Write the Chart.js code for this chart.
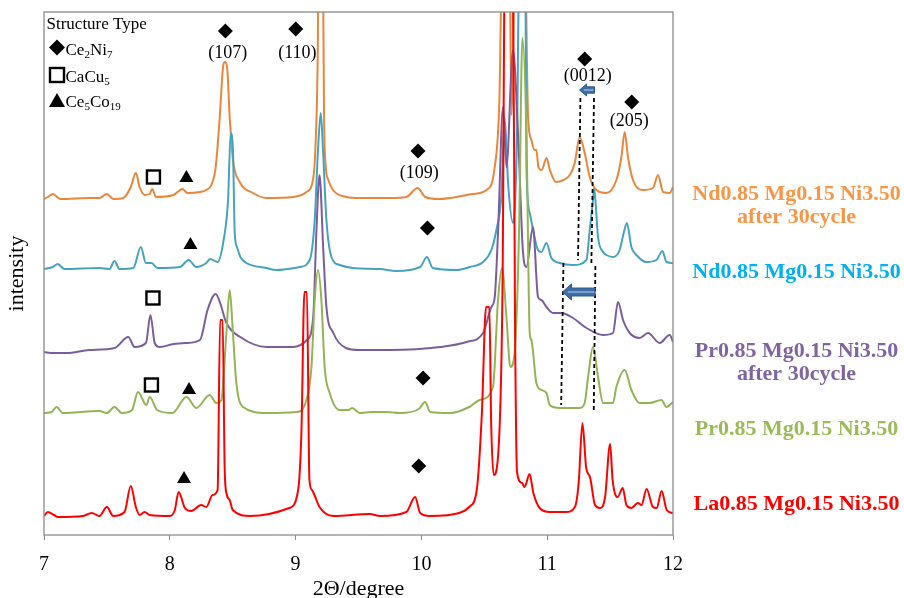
<!DOCTYPE html>
<html>
<head>
<meta charset="utf-8">
<script src="https://cdn.jsdelivr.net/npm/chart.js@4.4.0/dist/chart.umd.min.js"></script>
<style>
  html, body { margin: 0; padding: 0; background: #fff; }
  #wrap { width: 904px; height: 598px; }
</style>
</head>
<body>
<div id="wrap"><canvas id="xrd" width="904" height="598"></canvas></div>
<script>
// [2theta (degree), intensity with stacking offset]
const laPoints = [[7.00,19],[7.03,23],[7.08,20],[7.11,18],[7.31,19],[7.38,22],[7.44,19],[7.50,28],[7.55,19],[7.64,23],[7.69,49],[7.73,28],[7.76,20],[7.80,23],[7.84,20],[8.00,19],[8.04,25],[8.07,43],[8.12,27],[8.17,24],[8.25,30],[8.29,28],[8.34,40],[8.38,45],[8.40,215],[8.42,215],[8.436,68],[8.45,42],[8.476,35],[8.50,25],[8.64,19],[8.95,27],[9.02,45],[9.046,102],[9.07,243],[9.09,243],[9.11,55],[9.13,45],[9.15,40],[9.19,28],[9.30,19],[9.59,21],[9.67,19],[9.88,23],[9.95,38],[9.99,22],[10.07,19],[10.30,22],[10.38,28],[10.44,45],[10.48,120],[10.514,228],[10.54,228],[10.555,110],[10.575,60],[10.61,80],[10.645,250],[10.665,600],[10.725,600],[10.745,200],[10.76,63],[10.80,52],[10.82,48],[10.86,61],[10.89,42],[10.94,27],[11.02,23],[11.15,23],[11.22,28],[11.25,52],[11.28,112],[11.31,67],[11.34,58],[11.38,30],[11.42,27],[11.46,38],[11.50,91],[11.52,55],[11.56,38],[11.60,47],[11.63,30],[11.67,27],[11.72,32],[11.75,30],[11.79,46],[11.84,28],[11.87,27],[11.91,44],[11.95,25],[12.00,22]];
const prPoints = [[7.00,122],[7.06,123],[7.10,128],[7.15,122],[7.44,124],[7.50,122],[7.56,128],[7.62,122],[7.70,125],[7.747,143],[7.814,130],[7.84,138],[7.90,125],[8.02,122],[8.132,138],[8.211,127],[8.317,140],[8.37,132],[8.41,135],[8.45,202],[8.476,245],[8.502,202],[8.529,152],[8.582,128],[8.768,122],[9.006,123],[9.086,135],[9.126,168],[9.152,235],[9.178,265],[9.205,235],[9.231,168],[9.271,142],[9.351,125],[9.42,125],[9.45,127],[9.51,122],[9.60,123],[9.72,123],[9.83,122],[9.98,126],[10.03,133],[10.07,123],[10.23,122],[10.38,128],[10.464,135],[10.569,148],[10.609,235],[10.641,267],[10.676,218],[10.707,168],[10.741,182],[10.776,302],[10.803,497],[10.835,402],[10.861,202],[10.874,195],[10.914,152],[10.954,145],[10.994,142],[11.02,130],[11.10,127],[11.259,127],[11.298,132],[11.325,158],[11.364,188],[11.404,158],[11.444,132],[11.523,132],[11.55,148],[11.616,165],[11.669,145],[11.735,132],[11.815,132],[11.908,135],[11.948,128],[12.00,133]];
const prCyclePoints = [[7.00,183],[7.07,182],[7.18,182],[7.36,185],[7.56,187],[7.67,198],[7.72,188],[7.81,192],[7.846,220],[7.88,192],[7.92,188],[8.03,191],[8.13,192],[8.24,195],[8.30,225],[8.365,241],[8.40,232],[8.45,212],[8.56,198],[8.77,188],[8.98,188],[9.09,195],[9.14,218],[9.165,302],[9.19,360],[9.22,285],[9.245,228],[9.30,202],[9.40,187],[9.51,185],[9.75,185],[10.15,188],[10.36,193],[10.49,202],[10.556,228],[10.583,238],[10.61,305],[10.649,428],[10.676,368],[10.728,485],[10.768,402],[10.808,282],[10.835,268],[10.887,308],[10.927,238],[10.954,235],[10.994,228],[11.046,222],[11.113,222],[11.205,217],[11.312,207],[11.444,200],[11.523,202],[11.563,233],[11.603,215],[11.656,202],[11.735,197],[11.801,202],[11.894,192],[11.974,200],[12.00,193]];
const ndPoints = [[7.00,266],[7.07,268],[7.11,271],[7.16,266],[7.44,267],[7.52,266],[7.56,274],[7.60,266],[7.71,267],[7.77,288],[7.81,272],[7.855,272],[7.90,267],[8.08,268],[8.15,275],[8.21,268],[8.29,272],[8.32,276],[8.38,273],[8.428,295],[8.463,335],[8.484,402],[8.502,385],[8.516,302],[8.534,288],[8.561,278],[8.609,272],[8.768,267],[8.847,265],[9.033,268],[9.112,275],[9.152,315],[9.178,385],[9.20,422],[9.218,385],[9.245,315],[9.285,278],[9.351,270],[9.456,267],[9.67,266],[9.80,264],[9.99,268],[10.044,278],[10.09,267],[10.28,265],[10.384,268],[10.49,273],[10.556,285],[10.596,305],[10.636,340],[10.662,417],[10.69,350],[10.728,312],[10.76,400],[10.781,600],[10.825,600],[10.835,368],[10.861,322],[10.887,305],[10.927,285],[10.954,283],[10.994,292],[11.033,277],[11.10,272],[11.205,270],[11.312,275],[11.338,305],[11.364,335],[11.372,346],[11.38,340],[11.404,298],[11.444,283],[11.471,280],[11.523,278],[11.576,285],[11.608,302],[11.634,312],[11.669,288],[11.709,280],[11.789,273],[11.868,275],[11.916,284],[11.948,273],[12.00,272]];
const ndCyclePoints = [[7.00,336],[7.03,338],[7.07,341],[7.13,336],[7.36,337],[7.44,337],[7.50,341],[7.55,336],[7.63,337],[7.69,348],[7.73,362],[7.76,348],[7.80,340],[7.84,341],[7.86,346],[7.89,338],[8.03,340],[8.10,346],[8.14,342],[8.24,343],[8.29,345],[8.33,350],[8.365,368],[8.397,418],[8.423,468],[8.436,473],[8.455,468],[8.476,418],[8.502,375],[8.556,353],[8.661,342],[8.768,337],[8.979,338],[9.086,343],[9.138,355],[9.155,380],[9.175,470],[9.185,600],[9.215,600],[9.226,420],[9.24,368],[9.26,355],[9.297,345],[9.404,338],[9.51,337],[9.75,337],[9.88,338],[9.97,347],[10.03,338],[10.14,336],[10.41,341],[10.517,345],[10.583,368],[10.62,435],[10.645,600],[10.70,600],[10.715,420],[10.75,600],[10.82,600],[10.848,418],[10.874,395],[10.90,385],[10.914,385],[10.93,368],[10.956,365],[10.995,377],[11.021,365],[11.07,353],[11.13,355],[11.18,360],[11.219,372],[11.258,398],[11.298,382],[11.338,358],[11.391,345],[11.471,342],[11.55,355],[11.59,378],[11.616,403],[11.642,378],[11.682,355],[11.761,345],[11.841,347],[11.881,360],[11.921,343],[11.974,342],[12.00,348]];

const seriesNames = ['La0.85 Mg0.15 Ni3.50', 'Pr0.85 Mg0.15 Ni3.50', 'Pr0.85 Mg0.15 Ni3.50 after 30cycle', 'Nd0.85 Mg0.15 Ni3.50', 'Nd0.85 Mg0.15 Ni3.50 after 30cycle'];
const xTicks = [7, 8, 9, 10, 11, 12];

// phase markers, [2theta, intensity]
const ce2ni7Marks = [[8.442,504],[9.001,506],[9.973,384],[11.298,476],[11.672,433],[10.048,307],[10.013,157],[9.979,69]];
const cacu5Marks = [[7.870,358],[7.866,237],[7.854,150]];
const ce5co19Marks = [[8.132,359],[8.164,292],[8.153,147],[8.113,58]];
const hklLabels = [['(107)',8.460,482],['(110)',9.014,482],['(109)',9.983,362],['(0012)',11.322,459],['(205)',11.653,414]];
// peak shift guides [x1, y1, x2, y2] and arrows [tip, tail, y]
const shiftLines = [[11.264,437,11.245,275],[11.372,437,11.351,270],[11.129,272,11.111,130],[11.383,269,11.370,125]];
const shiftArrows = [[11.257,11.376,445],[11.121,11.381,243]];

const SERIF = "'Liberation Serif', 'Times New Roman', serif";
const lineColors = ['#ff0000', '#93b455', '#7a5e9c', '#46a3bf', '#e8873c'];
const labelColors = ['#ff0000', '#9bbb59', '#8064a2', '#00b0f0', '#f79646'];

function drawDiamond(ctx, x, y, r) {
    ctx.beginPath();
    ctx.moveTo(x, y - r);
    ctx.lineTo(x + r, y);
    ctx.lineTo(x, y + r);
    ctx.lineTo(x - r, y);
    ctx.closePath();
    ctx.fill();
}

function drawSquare(ctx, x, y, s) {
    ctx.lineWidth = 2.4;
    ctx.strokeRect(x - s / 2, y - s / 2, s, s);
}

function drawTriangle(ctx, x, y, w, h) {
    ctx.beginPath();
    ctx.moveTo(x, y - h / 2);
    ctx.lineTo(x + w / 2, y + h / 2);
    ctx.lineTo(x - w / 2, y + h / 2);
    ctx.closePath();
    ctx.fill();
}

function drawFormula(ctx, parts, x, y, size) {
    let cx = x;
    parts.forEach(function (p) {
        let sub = p[1];
        ctx.font = (sub ? Math.round(size * 0.66) : size) + 'px ' + SERIF;
        ctx.fillText(p[0], cx, sub ? y + size * 0.2 : y);
        cx += ctx.measureText(p[0]).width;
    });
}

function drawArrow(ctx, tip, tail, y, shaftHalf, headHalf, headLen) {
    ctx.beginPath();
    ctx.moveTo(tip, y);
    ctx.lineTo(tip + headLen, y - headHalf);
    ctx.lineTo(tip + headLen, y - shaftHalf);
    ctx.lineTo(tail, y - shaftHalf);
    ctx.lineTo(tail, y + shaftHalf);
    ctx.lineTo(tip + headLen, y + shaftHalf);
    ctx.lineTo(tip + headLen, y + headHalf);
    ctx.closePath();
    ctx.fillStyle = '#3f6ea6';
    ctx.fill();
    ctx.strokeStyle = '#2f5a8c';
    ctx.lineWidth = 1;
    ctx.stroke();
    ctx.beginPath();
    ctx.moveTo(tip + headLen * 0.6, y);
    ctx.lineTo(tail - 1, y);
    ctx.strokeStyle = '#8fb0da';
    ctx.lineWidth = 1.5;
    ctx.stroke();
}

const overlay = {
    id: 'overlay',
    afterDraw(chart) {
        const ctx = chart.ctx;
        const a = chart.chartArea;
        const x = chart.scales.x;
        const y = chart.scales.y;
        ctx.save();

        // plot frame
        ctx.strokeStyle = '#8a8a8a';
        ctx.lineWidth = 1.3;
        ctx.strokeRect(a.left, a.top, a.right - a.left, a.bottom - a.top);

        // dashed guides and shift arrows
        ctx.strokeStyle = '#000';
        ctx.lineWidth = 1.8;
        ctx.setLineDash([4, 3]);
        shiftLines.forEach(function (l) {
            ctx.beginPath();
            ctx.moveTo(x.getPixelForValue(l[0]), y.getPixelForValue(l[1]));
            ctx.lineTo(x.getPixelForValue(l[2]), y.getPixelForValue(l[3]));
            ctx.stroke();
        });
        ctx.setLineDash([]);
        drawArrow(ctx, x.getPixelForValue(shiftArrows[0][0]), x.getPixelForValue(shiftArrows[0][1]), y.getPixelForValue(shiftArrows[0][2]), 3.2, 6, 7);
        drawArrow(ctx, x.getPixelForValue(shiftArrows[1][0]), x.getPixelForValue(shiftArrows[1][1]), y.getPixelForValue(shiftArrows[1][2]), 4, 8, 9);

        // phase markers
        ctx.fillStyle = '#000';
        ctx.strokeStyle = '#000';
        ce2ni7Marks.forEach(function (m) {
            drawDiamond(ctx, x.getPixelForValue(m[0]), y.getPixelForValue(m[1]), 7.5);
        });
        cacu5Marks.forEach(function (m) {
            drawSquare(ctx, x.getPixelForValue(m[0]), y.getPixelForValue(m[1]), 13);
        });
        ce5co19Marks.forEach(function (m) {
            drawTriangle(ctx, x.getPixelForValue(m[0]), y.getPixelForValue(m[1]), 14, 12);
        });

        ctx.font = '18px ' + SERIF;
        ctx.textAlign = 'center';
        ctx.textBaseline = 'middle';
        hklLabels.forEach(function (h) {
            ctx.fillText(h[0], x.getPixelForValue(h[1]), y.getPixelForValue(h[2]));
        });

        // structure type key
        ctx.textAlign = 'left';
        ctx.textBaseline = 'alphabetic';
        let lx = a.left + 2.5;
        ctx.font = '17px ' + SERIF;
        ctx.fillText('Structure Type', lx, a.top + 17);
        drawDiamond(ctx, lx + 10.5, a.top + 35.5, 8);
        drawFormula(ctx, [['Ce', false], ['2', true], ['Ni', false], ['7', true]], lx + 19, a.top + 43, 17);
        drawSquare(ctx, lx + 10.5, a.top + 63, 14);
        drawFormula(ctx, [['CaCu', false], ['5', true]], lx + 19, a.top + 69.5, 17);
        drawTriangle(ctx, lx + 10.5, a.top + 88, 16, 14);
        drawFormula(ctx, [['Ce', false], ['5', true], ['Co', false], ['19', true]], lx + 19, a.top + 94.5, 17);

        // sample names
        const names = [
            [['Nd0.85 Mg0.15 Ni3.50', 'after 30cycle'], labelColors[4], 200],
            [['Nd0.85 Mg0.15 Ni3.50'], labelColors[3], 278],
            [['Pr0.85 Mg0.15 Ni3.50', 'after 30cycle'], labelColors[2], 356.5],
            [['Pr0.85 Mg0.15 Ni3.50'], labelColors[1], 435],
            [['La0.85 Mg0.15 Ni3.50'], labelColors[0], 510]
        ];
        ctx.textAlign = 'center';
        ctx.font = 'bold 22px ' + SERIF;
        names.forEach(function (n) {
            ctx.fillStyle = n[1];
            n[0].forEach(function (t, i) {
                ctx.fillText(t, 796.5, n[2] + i * 23);
            });
        });
        ctx.restore();
    }
};

const allPoints = [laPoints, prPoints, prCyclePoints, ndPoints, ndCyclePoints];
const datasets = allPoints.map(function (pts, i) {
    return {
        label: seriesNames[i],
        data: pts.map(function (p) { return {x: p[0], y: p[1]}; }),
        borderColor: lineColors[i],
        borderWidth: 2,
        pointRadius: 0,
        cubicInterpolationMode: 'monotone',
        fill: false
    };
});

new Chart(document.getElementById('xrd').getContext('2d'), {
    type: 'line',
    data: {datasets: datasets},
    options: {
        responsive: false,
        animation: false,
        devicePixelRatio: 1,
        layout: {padding: {top: 12, right: 231, left: 0, bottom: 0}},
        plugins: {legend: {display: false}, tooltip: {enabled: false}},
        scales: {
            x: {
                type: 'linear',
                min: 7,
                max: 12,
                afterBuildTicks: function (scale) {
                    scale.ticks = xTicks.map(function (v) { return {value: v}; });
                },
                afterFit: function (scale) { scale.height = 63; },
                grid: {drawOnChartArea: false, drawTicks: true, tickLength: 5, color: '#8a8a8a'},
                border: {display: false},
                ticks: {color: '#000', padding: 13, font: {family: SERIF, size: 20}},
                title: {display: true, text: '2Θ/degree', color: '#000', font: {family: SERIF, size: 22}, padding: {top: 0, bottom: -4}}
            },
            y: {
                min: 0,
                max: 523,
                afterFit: function (scale) { scale.width = 44; },
                grid: {display: false},
                border: {display: false},
                ticks: {display: false},
                title: {display: true, text: 'intensity', color: '#000', font: {family: SERIF, size: 22}, padding: {top: 4, bottom: 0}}
            }
        }
    },
    plugins: [overlay]
});
</script>
</body>
</html>
